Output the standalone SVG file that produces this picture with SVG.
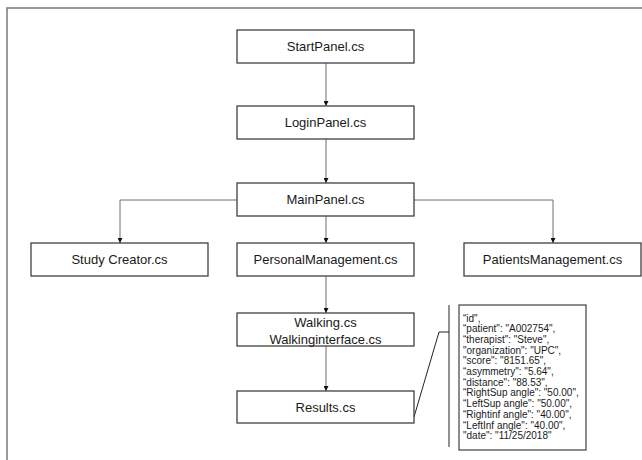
<svg xmlns="http://www.w3.org/2000/svg" width="642" height="460" viewBox="0 0 642 460">
<defs>
<style>
.box{fill:#fff;stroke:#404040;stroke-width:1.3}
.lbl{font-family:"Liberation Sans",Arial,sans-serif;font-size:13px;fill:#1a1a1a;text-anchor:middle}
.conn{fill:none;stroke:#6e6e6e;stroke-width:1}
.json{font-family:"Liberation Sans",Arial,sans-serif;font-size:10px;fill:#1a1a1a}
</style>
<marker id="arr" viewBox="0 0 6 6" refX="6" refY="3" markerWidth="5" markerHeight="5" orient="auto" markerUnits="userSpaceOnUse">
<path d="M0,0 L6,3 L0,6 Z" fill="#111"/>
</marker>
</defs>
<rect width="642" height="460" fill="#fff"/>
<path d="M7,460 V8 H642" fill="none" stroke="#7a7a7a" stroke-width="1.5"/>

<g id="connectors">
<path class="conn" d="M326,63 V106" marker-end="url(#arr)"/>
<path class="conn" d="M326,139 V183" marker-end="url(#arr)"/>
<path class="conn" d="M326,216 V243" marker-end="url(#arr)"/>
<path class="conn" d="M237,200 H120 V243" marker-end="url(#arr)"/>
<path class="conn" d="M414,200 H553 V243" marker-end="url(#arr)"/>
<path class="conn" d="M326,276 V313" marker-end="url(#arr)"/>
<path class="conn" d="M326,346 V391" marker-end="url(#arr)"/>
<path d="M414,417 L439,332 H449 M449,305 V447" fill="none" stroke="#222" stroke-width="1"/>
</g>

<g id="startpanel">
<rect class="box" x="237" y="30" width="177" height="33"/>
<text class="lbl" x="325.5" y="51">StartPanel.cs</text>
</g>
<g id="loginpanel">
<rect class="box" x="237" y="106" width="177" height="33"/>
<text class="lbl" x="325.5" y="127">LoginPanel.cs</text>
</g>
<g id="mainpanel">
<rect class="box" x="237" y="183" width="177" height="33"/>
<text class="lbl" x="325.5" y="204">MainPanel.cs</text>
</g>
<g id="studycreator">
<rect class="box" x="31" y="243" width="177" height="33"/>
<text class="lbl" x="119.5" y="264">Study Creator.cs</text>
</g>
<g id="personalmanagement">
<rect class="box" x="237" y="243" width="177" height="33"/>
<text class="lbl" x="325.5" y="264">PersonalManagement.cs</text>
</g>
<g id="patientsmanagement">
<rect class="box" x="464" y="243" width="177" height="33"/>
<text class="lbl" x="552.5" y="264">PatientsManagement.cs</text>
</g>
<g id="walking">
<rect class="box" x="237" y="313" width="177" height="33"/>
<text class="lbl" x="325.5" y="326.5">Walking.cs</text>
<text class="lbl" x="325.5" y="343.5">Walkinginterface.cs</text>
</g>
<g id="results">
<rect class="box" x="237" y="391" width="177" height="32"/>
<text class="lbl" x="325.5" y="411.5">Results.cs</text>
</g>
<g id="json">
<rect x="459" y="305" width="127" height="145" fill="#fff" stroke="#404040" stroke-width="1.2"/>
<text class="json" x="463" y="321.5">“id",</text>
<text class="json" x="463" y="332.2">“patient": "A002754",</text>
<text class="json" x="463" y="342.9">“therapist": "Steve",</text>
<text class="json" x="463" y="353.6">"organization": "UPC",</text>
<text class="json" x="463" y="364.3">"score": "8151.65",</text>
<text class="json" x="463" y="375">“asymmetry": "5.64",</text>
<text class="json" x="463" y="385.7">“distance": "88.53",</text>
<text class="json" x="463" y="396.4">“RightSup angle": "50.00",</text>
<text class="json" x="463" y="407.1">“LeftSup angle": "50.00",</text>
<text class="json" x="463" y="417.8">“Rightinf angle": "40.00",</text>
<text class="json" x="463" y="428.5">“LeftInf angle": "40.00",</text>
<text class="json" x="463" y="439.2">"date": "11/25/2018"</text>
</g>
</svg>
